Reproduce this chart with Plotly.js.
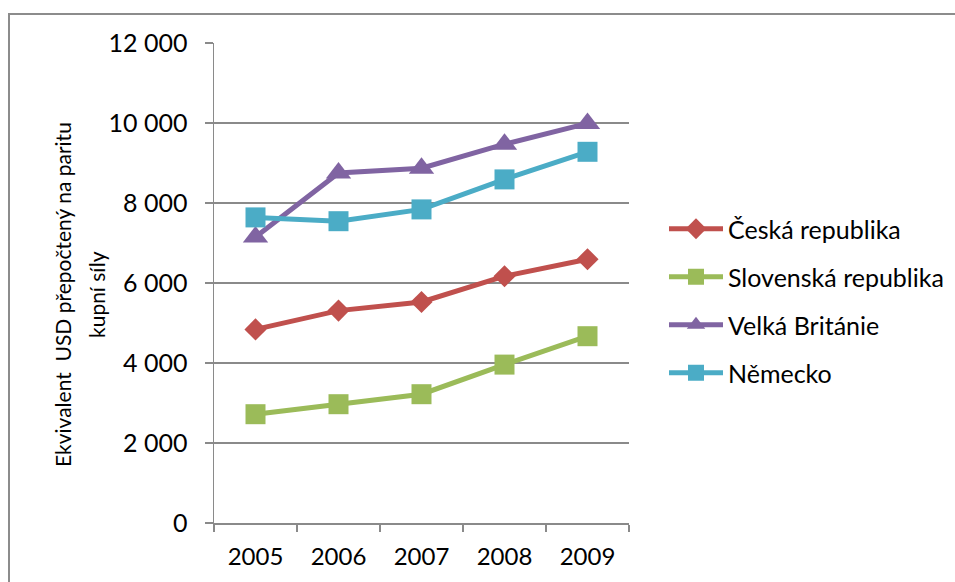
<!DOCTYPE html>
<html>
<head>
<meta charset="utf-8">
<script src="https://cdn.plot.ly/plotly-3.0.1.min.js"></script>
<style>
  html, body { margin: 0; padding: 0; background: #fff; }
  #chart { width: 955px; height: 582px; }
</style>
</head>
<body>
<div id="chart"></div>
<script>
// Roky a hodnoty (ekvivalent USD v paritě kupní síly)
const years = ['2005', '2006', '2007', '2008', '2009'];
const ceskaRepublika = [4840, 5310, 5525, 6170, 6595];
const slovenskaRepublika = [2720, 2970, 3220, 3960, 4670];
const velkaBritanie = [7150, 8750, 8870, 9470, 9990];
const nemecko = [7640, 7545, 7840, 8590, 9280];

const seriesNames = ['Česká republika', 'Slovenská republika', 'Velká Británie', 'Německo'];
const seriesValues = [ceskaRepublika, slovenskaRepublika, velkaBritanie, nemecko];
const seriesColors = ['#C0504D', '#9BBB59', '#8064A2', '#4BACC6'];
const seriesSymbols = ['diamond', 'square', 'triangle-up', 'square'];
const symbolSizes = [17, 20, 22, 20];

// Popisek svislé osy (dva řádky)
const yTitleLines = ['Ekvivalent  USD přepočtený na paritu', 'kupní síly'];

const FONT = 'Lato, "Open Sans", sans-serif';
const FS = 25;
const GRID = '#8a8a8a';

const traces = seriesNames.map((name, i) => ({
  type: 'scatter',
  mode: 'lines+markers',
  name: name,
  legendgroup: 'g' + i,
  x: years,
  y: seriesValues[i],
  line: { color: seriesColors[i], width: 5 },
  marker: { symbol: seriesSymbols[i], size: symbolSizes[i], color: seriesColors[i] }
}));

// plot area spans 214..629 px horizontally and 43..523 px vertically
const L = 214, R = 629, T = 43, B = 523;
const pw = R - L, ph = B - T;
const px = v => (v - L) / pw;
const py = v => (B - v) / ph;

const titleX = [62, 96];

const layout = {
  width: 955,
  height: 582,
  margin: { l: L, r: 955 - R, t: T, b: 582 - B, pad: 0, autoexpand: false },
  paper_bgcolor: '#ffffff',
  plot_bgcolor: '#ffffff',
  separators: ', ',
  font: { family: FONT, size: FS, color: '#000000' },
  showlegend: true,
  legend: {
    x: px(664), xanchor: 'left',
    y: py(206), yanchor: 'top',
    traceorder: 'grouped',
    tracegroupgap: 12.5,
    itemwidth: 54,
    font: { family: FONT, size: FS, color: '#000000' },
    bgcolor: 'rgba(0,0,0,0)'
  },
  xaxis: {
    type: 'category',
    range: [-0.5, 4.5],
    showgrid: false,
    showline: true,
    linecolor: GRID,
    linewidth: 1.5,
    ticks: 'outside',
    tickson: 'boundaries',
    ticklen: 7,
    tickcolor: GRID,
    tickwidth: 1.5,
    ticklabelstandoff: 12,
    tickfont: { family: FONT, size: 24, color: '#000000' },
    zeroline: false,
    fixedrange: true
  },
  yaxis: {
    range: [0, 12000],
    dtick: 2000,
    tick0: 0,
    tickformat: ',d',
    showgrid: true,
    gridcolor: GRID,
    gridwidth: 1.5,
    showline: true,
    linecolor: GRID,
    linewidth: 1.5,
    ticks: 'outside',
    ticklen: 8,
    tickcolor: GRID,
    tickwidth: 1.5,
    ticklabelstandoff: 12,
    tickfont: { family: FONT, size: FS, color: '#000000' },
    zeroline: false,
    fixedrange: true
  },
  annotations: yTitleLines.map((t, i) => ({
    text: t,
    xref: 'paper', yref: 'paper',
    x: px(titleX[i]), y: py(295),
    xanchor: 'center', yanchor: 'middle',
    textangle: -90,
    showarrow: false,
    font: { family: FONT, size: 21, color: '#000000' }
  })),
  shapes: [{
    type: 'rect', xref: 'paper', yref: 'paper',
    x0: px(9), x1: px(960), y0: py(590), y1: py(14),
    line: { color: '#8c8c8c', width: 2 },
    fillcolor: 'rgba(0,0,0,0)',
    layer: 'below'
  }]
};

Plotly.newPlot('chart', traces, layout, { displayModeBar: false, staticPlot: true });
</script>
</body>
</html>
